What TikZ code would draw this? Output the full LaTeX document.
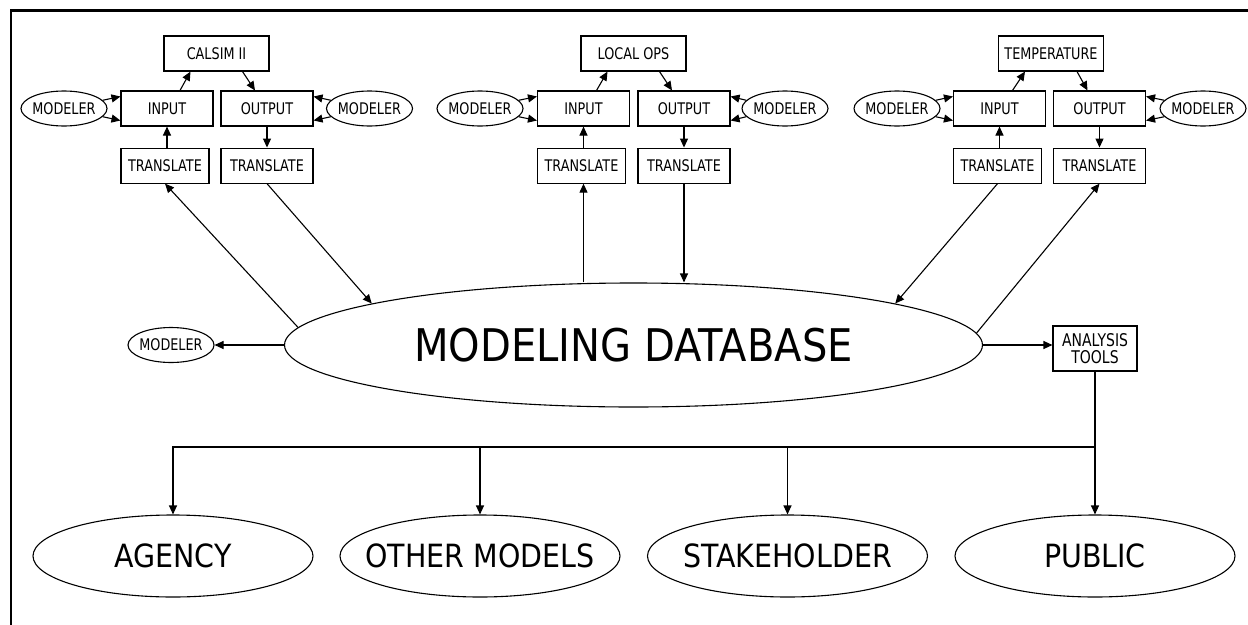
\documentclass[tikz,border=0pt]{standalone}
\usepackage{fontspec}
\setmainfont{DejaVu Sans}[FakeStretch=0.89]
\newfontfamily\labelfont{DejaVu Sans}[FakeStretch=0.8]
\usepackage{tikz}
\usetikzlibrary{shapes.geometric}
\usetikzlibrary{arrows.meta}
\usetikzlibrary{positioning}

\begin{document}
\begin{tikzpicture}[x=1pt,y=-1pt,line width=1.1pt,
  >={Triangle[length=9pt,width=8pt]},
  box/.style={draw,rectangle,minimum width=92,minimum height=35,inner sep=1pt,font=\labelfont\fontsize{16}{17}\selectfont},
  model/.style={box,minimum width=105},
  modeler/.style={draw,ellipse,minimum width=86,minimum height=35,inner xsep=-4pt,inner ysep=0pt,font=\labelfont\fontsize{16}{17}\selectfont},
  dbase/.style={draw,ellipse,minimum width=698,minimum height=124,inner sep=0pt,font=\fontsize{45}{50}\selectfont},
  party/.style={draw,ellipse,minimum width=280,minimum height=82,inner xsep=-20pt,inner ysep=0pt,font=\fontsize{32}{36}\selectfont},
  frame/.style={line width=2.5pt}]
\useasboundingbox (0,0) rectangle (1248,624);
\draw [frame] (11,630) |- (1260,10.5);

% CALSIM II
\node [model] (m1) at (216.5,53.5) {CALSIM II};
\node [box] (in1) at (167,108.5) {INPUT};
\node [box] (out1) at (267,108.5) {OUTPUT};
\node [box,minimum width=88,anchor=north west,at=(in1.south west),yshift=-21pt] (tin1) {TRANSLATE};
\node [box,below=21pt,at=(out1.south)] (tout1) {TRANSLATE};
\node [modeler] (mi1) at (64,108.5) {MODELER};
\node [modeler] (mo1) at (369.5,108.5) {MODELER};

\draw [->] ([xshift=13]in1.north) -- ([xshift=-26]m1.south);
\draw [->] ([xshift=26]m1.south) -- ([xshift=-12]out1.north);
\draw [->] (tin1.north -| in1.south) -- (in1.south);
\draw [->] (out1) -- (tout1);
\draw [->] (mi1.12) -- ([yshift=12]in1.west);
\draw [->] (mi1.-12) -- ([yshift=-12]in1.west);
\draw [->] (mo1.168) -- ([yshift=12]out1.east);
\draw [->] (mo1.192) -- ([yshift=-12]out1.east);

% LOCAL OPS
\node [model] (m2) at (633.5,53.5) {LOCAL OPS};
\node [box] (in2) at (583.5,108.5) {INPUT};
\node [box] (out2) at (684,108.5) {OUTPUT};
\node [box,minimum width=88,anchor=north west,at=(in2.south west),yshift=-21pt] (tin2) {TRANSLATE};
\node [box,below=21pt,at=(out2.south)] (tout2) {TRANSLATE};
\node [modeler] (mi2) at (480,108.5) {MODELER};
\node [modeler] (mo2) at (785,108.5) {MODELER};

\draw [->] ([xshift=13]in2.north) -- ([xshift=-26]m2.south);
\draw [->] ([xshift=26]m2.south) -- ([xshift=-12]out2.north);
\draw [->] (tin2.north -| in2.south) -- (in2.south);
\draw [->] (out2) -- (tout2);
\draw [->] (mi2.12) -- ([yshift=12]in2.west);
\draw [->] (mi2.-12) -- ([yshift=-12]in2.west);
\draw [->] (mo2.168) -- ([yshift=12]out2.east);
\draw [->] (mo2.192) -- ([yshift=-12]out2.east);

% TEMPERATURE
\node [model] (m3) at (1051,53.5) {TEMPERATURE};
\node [box] (in3) at (999.5,108.5) {INPUT};
\node [box] (out3) at (1099.5,108.5) {OUTPUT};
\node [box,minimum width=88,anchor=north west,at=(in3.south west),yshift=-21pt] (tin3) {TRANSLATE};
\node [box,below=21pt,at=(out3.south)] (tout3) {TRANSLATE};
\node [modeler] (mi3) at (897,108.5) {MODELER};
\node [modeler] (mo3) at (1203,108.5) {MODELER};

\draw [->] ([xshift=13]in3.north) -- ([xshift=-26]m3.south);
\draw [->] ([xshift=26]m3.south) -- ([xshift=-12]out3.north);
\draw [->] (tin3.north -| in3.south) -- (in3.south);
\draw [->] (out3) -- (tout3);
\draw [->] (mi3.12) -- ([yshift=12]in3.west);
\draw [->] (mi3.-12) -- ([yshift=-12]in3.west);
\draw [->] (mo3.168) -- ([yshift=12]out3.east);
\draw [->] (mo3.192) -- ([yshift=-12]out3.east);

% database
\node [dbase] (db) at (633.5,345) {MODELING DATABASE};
\node [modeler] (mdb) at (171,345) {MODELER};
\node [box,align=center,minimum width=84,minimum height=45,font=\labelfont\fontsize{17.5}{17}\selectfont] (tools) at (1095,348.5) {ANALYSIS\\TOOLS};

\draw [->] (db.177.5) -- (tin1.south);
\draw [->] (tout1.south) -- (db.171);
\draw [->] (in2.south |- db.north) -- (in2.south |- tin2.south);
\draw [->] (tout2.south) -- (tout2.south |- db.north);
\draw [->] (tin3.south) -- (db.9);
\draw [->] (db.2.5) -- (tout3.south);
\draw [->] (db.west) -- (mdb.east);
\draw [->] (db.east) -- (db.east -| tools.west);

% users
\node [party] (agency) at (173,556) {AGENCY};
\node [party] (other) at (480,556) {OTHER MODELS};
\node [party] (stake) at (787.5,556) {STAKEHOLDER};
\node [party] (public) at (1095,556) {PUBLIC};
\coordinate (split) at (1095,447);

\draw (tools.south) -- (split);
\draw [->] (split) -- (public.north);
\draw [->] (split) -| (agency);
\draw [->] (split) -| (other);
\draw [->] (split) -| (stake);
\end{tikzpicture}
\end{document}
